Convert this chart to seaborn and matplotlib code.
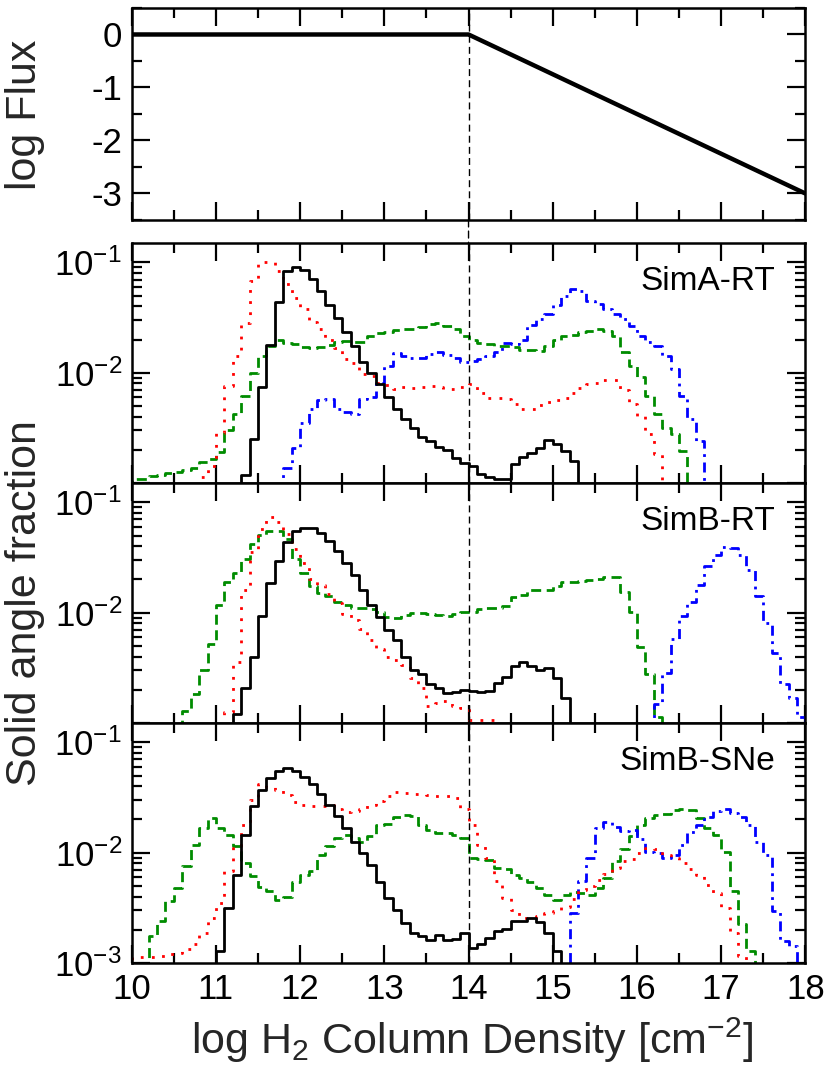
import numpy as np
import matplotlib
matplotlib.use("Agg")
import matplotlib.pyplot as plt
import seaborn as sns
from matplotlib.patches import ConnectionPatch
from matplotlib.ticker import MultipleLocator, FixedLocator, LogLocator, NullFormatter, FuncFormatter

# bins are 0.1 dex wide; each series = centre of first bin + log10(solid angle fraction) per bin
BIN = 0.1

FLUX_X = [10, 14, 18]
FLUX_LOG = [0, 0, -3]

PANEL_NAMES = ["SimA-RT", "SimB-RT", "SimB-SNe"]

# --- SimA-RT ---
SIMA_SOLID_X0 = 11.35
SIMA_SOLID = [-2.93, -2.6, -2.13, -1.75, -1.36, -1.08, -1.04, -1.07, -1.15, -1.26,
              -1.39, -1.50, -1.63, -1.76, -1.90, -2.00, -2.10, -2.22, -2.33, -2.42,
              -2.50, -2.58, -2.62, -2.67, -2.70, -2.77, -2.82,
              -2.85, -2.92, -2.95, -2.96, -2.96, -2.83, -2.76, -2.73, -2.68, -2.61,
              -2.65, -2.71, -2.80]
SIMA_DOTTED_X0 = 10.85
SIMA_DOTTED = [-2.95, -2.85, -2.55, -2.12, -1.85, -1.55, -1.17, -1.0, -1.0, -1.08,
               -1.2, -1.32, -1.42, -1.54, -1.60, -1.70, -1.78, -1.88, -1.91, -2.01,
               -2.03, -2.09, -2.11, -2.15, -2.13, -2.14, -2.13, -2.12, -2.13, -2.15,
               -2.15, -2.13,
               -2.10, -2.18, -2.23, -2.23, -2.24, -2.28, -2.33, -2.33, -2.29, -2.27,
               -2.25, -2.23, -2.18, -2.14, -2.10, -2.09, -2.07, -2.07, -2.16, -2.28,
               -2.39, -2.56, -2.74]
SIMA_DASHED_X0 = 10.05
SIMA_DASHED = [-2.96, -2.96, -2.94, -2.93, -2.91, -2.90, -2.88, -2.86, -2.81, -2.78,
               -2.72, -2.52, -2.37, -2.21, -2.0, -1.85, -1.76, -1.70, -1.73, -1.74,
               -1.77, -1.78, -1.77, -1.75, -1.72, -1.71, -1.72, -1.72, -1.67, -1.64,
               -1.63, -1.61, -1.60, -1.60, -1.59, -1.56, -1.55, -1.58, -1.60, -1.67,
               -1.70, -1.73, -1.74, -1.76, -1.76, -1.77, -1.79, -1.79, -1.80, -1.76,
               -1.70, -1.67, -1.66, -1.63, -1.62, -1.60, -1.62, -1.67, -1.81, -1.94,
               -2.04, -2.21, -2.37, -2.50, -2.56, -2.71]
SIMA_DASHDOT_X0 = 11.85
SIMA_DASHDOT = [-2.86, -2.68, -2.46, -2.33, -2.25, -2.24, -2.33, -2.36, -2.37, -2.24,
                -2.22, -2.09, -1.94, -1.82, -1.85, -1.87, -1.87, -1.83, -1.81, -1.84,
                -1.87, -1.90,
                -1.89, -1.88, -1.85, -1.81, -1.73, -1.74, -1.70, -1.57, -1.51, -1.47,
                -1.39, -1.30, -1.24, -1.26, -1.35, -1.38, -1.42, -1.47, -1.51, -1.58,
                -1.67, -1.72, -1.76, -1.85, -1.97, -2.21, -2.42, -2.62]

# --- SimB-RT ---
SIMB_SOLID_X0 = 11.25
SIMB_SOLID = [-2.92, -2.68, -2.40, -2.03, -1.73, -1.53, -1.36, -1.26,
              -1.23, -1.23, -1.28, -1.35, -1.44, -1.55, -1.66, -1.79, -1.93, -2.04,
              -2.16, -2.25, -2.40, -2.52, -2.56, -2.65, -2.68, -2.73, -2.72, -2.70,
              -2.71, -2.72, -2.71, -2.64, -2.58, -2.48, -2.45, -2.48, -2.52, -2.50,
              -2.59, -2.77]
SIMB_DOTTED_X0 = 11.15
SIMB_DOTTED = [-2.90, -2.45, -1.79, -1.45, -1.24, -1.13, -1.18, -1.29, -1.42,
               -1.55, -1.69, -1.75, -1.83, -1.91, -2.01, -2.07, -2.15, -2.25, -2.33,
               -2.40, -2.43, -2.47, -2.59, -2.68, -2.85, -2.82, -2.80, -2.85, -2.86,
               -2.97, -2.97, -2.97]
SIMB_DASHED_X0 = 10.65
SIMB_DASHED = [-2.89, -2.74, -2.52, -2.28,
               -1.93, -1.72, -1.64, -1.51, -1.38, -1.30, -1.26, -1.26, -1.33, -1.51,
               -1.64, -1.76, -1.82, -1.85, -1.90, -1.93, -1.96, -1.96, -1.97, -1.99,
               -2.04, -2.05, -2.02, -2.00, -2.00, -2.01, -2.02, -2.03, -2.01, -1.99,
               -1.99, -1.97, -1.96, -1.96, -1.94, -1.86, -1.84, -1.79, -1.79, -1.79,
               -1.76, -1.72, -1.72, -1.71, -1.70, -1.69, -1.68, -1.68, -1.81, -1.99,
               -2.31, -2.56, -2.95]
SIMB_DASHDOT_X0 = 16.25
SIMB_DASHDOT = [-2.83, -2.55, -2.24, -2.03, -1.90, -1.75, -1.58, -1.48, -1.40, -1.41,
                -1.48, -1.61, -1.85, -2.09, -2.37, -2.65, -2.77, -2.95]

# --- SimB-SNe ---
SNE_SOLID_X0 = 11.05
SNE_SOLID = [-2.89, -2.50, -2.20, -1.84, -1.58, -1.43, -1.32, -1.26, -1.23, -1.26,
             -1.31, -1.38, -1.47, -1.57, -1.67, -1.78, -1.90, -2.00, -2.11, -2.27,
             -2.41, -2.52, -2.64, -2.73, -2.76, -2.79, -2.75, -2.79, -2.78, -2.73,
             -2.86, -2.83, -2.77, -2.71, -2.69, -2.62, -2.62, -2.59, -2.63, -2.73,
             -2.89]
SNE_DOTTED_X0 = 10.05
SNE_DOTTED = [-2.95, -2.95, -2.95, -2.94, -2.92, -2.91, -2.87, -2.83, -2.73, -2.59,
              -2.46, -2.17, -1.94, -1.75, -1.52, -1.38, -1.40, -1.43, -1.48, -1.54,
              -1.57, -1.58, -1.58, -1.57, -1.60, -1.63, -1.62, -1.60, -1.57, -1.53,
              -1.49, -1.45, -1.46, -1.47, -1.47, -1.48, -1.49, -1.49, -1.50, -1.60,
              -1.75, -1.93, -2.05, -2.26, -2.41, -2.52, -2.59, -2.59, -2.57, -2.55,
              -2.53, -2.49, -2.42, -2.34, -2.30, -2.25, -2.19, -2.14, -2.08, -2.06,
              -2.00, -1.96, -1.97, -2.02, -2.05, -2.09, -2.15, -2.20, -2.29, -2.37,
              -2.50, -2.73, -2.94]
SNE_DASHED_X0 = 10.25
SNE_DASHED = [-2.76, -2.62, -2.44, -2.32, -2.12, -1.93, -1.78, -1.69,
              -1.78, -1.84, -1.94, -2.09, -2.21, -2.31, -2.35, -2.43, -2.40, -2.27,
              -2.20, -2.17, -2.02, -1.94, -1.87, -1.84, -1.87, -1.90, -1.85, -1.75,
              -1.74, -1.68, -1.66, -1.67, -1.75, -1.79, -1.82, -1.82, -1.84, -1.87,
              -2.05, -2.06, -2.07, -2.14, -2.15, -2.20, -2.23, -2.27, -2.32, -2.38,
              -2.43, -2.38, -2.36, -2.37, -2.38, -2.32, -2.23, -2.08, -1.97, -1.85,
              -1.75, -1.69, -1.66, -1.65, -1.61, -1.60, -1.61, -1.69, -1.78, -1.84,
              -1.99, -2.35, -2.65, -2.89]
SNE_DASHDOT_X0 = 15.25
SNE_DASHDOT = [-2.55, -2.26, -2.05, -1.78, -1.72, -1.77, -1.80, -1.79,
               -1.88, -1.99, -2.00, -2.05, -2.02, -1.93, -1.81, -1.75, -1.68, -1.62,
               -1.60, -1.64, -1.68, -1.75, -1.90, -2.02, -2.53, -2.80, -2.85]

PANEL_SERIES = [
    [(SIMA_DASHED_X0, SIMA_DASHED, "dashed"), (SIMA_DASHDOT_X0, SIMA_DASHDOT, "dashdot"),
     (SIMA_DOTTED_X0, SIMA_DOTTED, "dotted"), (SIMA_SOLID_X0, SIMA_SOLID, "solid")],
    [(SIMB_DASHED_X0, SIMB_DASHED, "dashed"), (SIMB_DASHDOT_X0, SIMB_DASHDOT, "dashdot"),
     (SIMB_DOTTED_X0, SIMB_DOTTED, "dotted"), (SIMB_SOLID_X0, SIMB_SOLID, "solid")],
    [(SNE_DASHED_X0, SNE_DASHED, "dashed"), (SNE_DASHDOT_X0, SNE_DASHDOT, "dashdot"),
     (SNE_DOTTED_X0, SNE_DOTTED, "dotted"), (SNE_SOLID_X0, SNE_SOLID, "solid")],
]

STYLES = {
    "solid": dict(color="black", linewidth=2.0, linestyle="-"),
    "dotted": dict(color="#ff0000", linewidth=2.0, linestyle=(0, (1, 3))),
    "dashed": dict(color="#008c00", linewidth=2.0, linestyle=(0, (3.6, 2.0))),
    "dashdot": dict(color="#0000ff", linewidth=2.0, linestyle=(0, (3.6, 2.0, 1.0, 2.0))),
}

sns.set_theme(style="ticks")
plt.rcParams["font.family"] = ["Liberation Sans", "DejaVu Sans"]
plt.rcParams["mathtext.fontset"] = "custom"
plt.rcParams["mathtext.rm"] = "Liberation Sans"
plt.rcParams["mathtext.it"] = "Liberation Sans"
plt.rcParams["mathtext.default"] = "regular"
plt.rcParams["axes.unicode_minus"] = False

TICK_FS = 25
LABEL_FS = 31


def draw_hist(ax, x0, logs, kind):
    x = x0 + BIN * np.arange(len(logs))
    y = 10.0 ** np.asarray(logs)
    # one off-scale bin at each end so the step drops through the bottom axis
    x = np.concatenate([[x[0] - BIN], x, [x[-1] + BIN]])
    y = np.concatenate([[1e-5], y, [1e-5]])
    sns.lineplot(x=x, y=y, ax=ax, drawstyle="steps-mid", errorbar=None, **STYLES[kind])


def style_axis(ax):
    ax.set_xlim(10, 18)
    ax.xaxis.set_major_locator(MultipleLocator(1))
    ax.xaxis.set_minor_locator(MultipleLocator(0.5))
    ax.tick_params(which="both", direction="in", top=True, right=True, width=1.6,
                   labelsize=TICK_FS, color="black", labelcolor="black")
    ax.tick_params(which="major", length=13, pad=7)
    ax.tick_params(which="minor", length=7)
    for s in ax.spines.values():
        s.set_linewidth(1.8)
        s.set_color("black")
    ax.set_xlabel("")
    ax.set_ylabel("")


fig = plt.figure(figsize=(8.30, 10.81), dpi=100)
left, width = 0.1587, 0.8116
ax_flux = fig.add_axes([left, 0.7965, width, 0.1961])
panel_h = 0.2220
axes = [fig.add_axes([left, 0.1092 + (2 - i) * panel_h, width, panel_h]) for i in range(3)]

# top: incident flux
sns.lineplot(x=FLUX_X, y=FLUX_LOG, ax=ax_flux, color="black", linewidth=3.2, errorbar=None)
style_axis(ax_flux)
ax_flux.set_ylim(-3.5, 0.5)
ax_flux.yaxis.set_major_locator(MultipleLocator(1))
ax_flux.yaxis.set_minor_locator(MultipleLocator(0.5))
ax_flux.tick_params(labelbottom=False)
ax_flux.axvline(14, color="black", lw=1.0, ls=(0, (5, 3)))

for i, ax in enumerate(axes):
    ax.set_yscale("log")
    for x0, logs, kind in PANEL_SERIES[i]:
        draw_hist(ax, x0, logs, kind)
    style_axis(ax)
    ax.set_ylim(1e-3, 0.15)
    ax.yaxis.set_major_locator(FixedLocator([1e-3, 1e-2, 1e-1]))
    ax.yaxis.set_minor_locator(LogLocator(base=10, subs=np.arange(2, 10), numticks=20))
    ax.yaxis.set_minor_formatter(NullFormatter())
    bottom = i == 2

    def fmt(v, pos, bottom=bottom):
        e = int(round(np.log10(v)))
        if e == -3 and not bottom:
            return ""
        return r"$10^{%d}$" % e

    ax.yaxis.set_major_formatter(FuncFormatter(fmt))
    if not bottom:
        ax.tick_params(labelbottom=False)
    ax.axvline(14, color="black", lw=1.0, ls=(0, (5, 3)))
    ax.text(0.955, 0.84, PANEL_NAMES[i], transform=ax.transAxes, ha="right", va="center",
            fontsize=24, color="black")

# dashed marker continues through the gap between the flux panel and the histograms
gap = ConnectionPatch(xyA=(14, -3.5), coordsA=ax_flux.transData,
                      xyB=(14, 0.15), coordsB=axes[0].transData,
                      color="black", lw=1.0, ls=(0, (5, 3)))
fig.add_artist(gap)

fig.text(0.030, 0.894, "log Flux", rotation=90, ha="center", va="center", fontsize=LABEL_FS)
fig.text(0.030, 0.442, "Solid angle fraction", rotation=90, ha="center", va="center",
         fontsize=LABEL_FS)
fig.text(0.569, 0.038, r"log H$_2$ Column Density [cm$^{-2}$]", ha="center", va="center",
         fontsize=LABEL_FS)

fig.savefig("out.png", dpi=100)
